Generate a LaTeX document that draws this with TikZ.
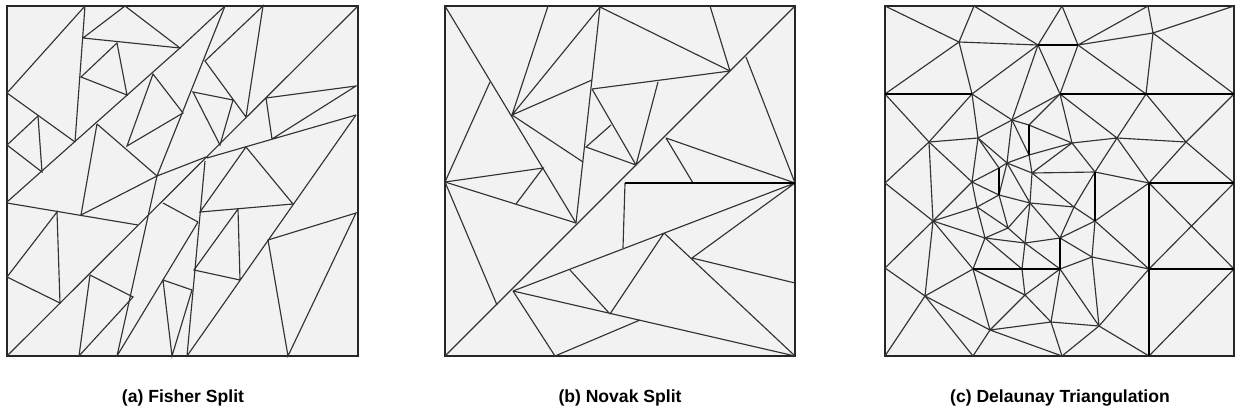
\documentclass[tikz,border=0pt]{standalone}
\usepackage{fontspec}
\setsansfont{Liberation Sans}
\usepackage{xcolor}
\definecolor{panelfill}{HTML}{F2F2F2}
\definecolor{edgegray}{HTML}{333333}

\begin{document}
\begin{tikzpicture}[x=0.02cm,y=-0.02cm,
  edge/.style={edgegray,line width=0.65pt},
  bound/.style={black,line width=1.15pt},
  frame/.style={fill=panelfill,draw=black!85,line width=1.1pt},
  caption/.style={font=\sffamily\bfseries\fontsize{10}{12}\selectfont}]
\useasboundingbox (0,0) rectangle (1238,413);
\filldraw[frame] (7,6) rectangle (358,356);
\filldraw[frame] (445,6) rectangle (795,356);
\filldraw[frame] (885,6) rectangle (1234,356);
\node[caption] (capa) at (183,398) {(a) Fisher Split};
\node[caption] (capb) at (620,398) {(b) Novak Split};
\node[caption] (capc) at (1060,398) {(c) Delaunay Triangulation};
% (a)
\draw[edge] (85,6)--(75,142) (125,6)--(83,38) (125,6)--(180,48)--(225,6) (83,38)--(180,48);
\draw[edge] (117,43)--(81,77)--(127,95)--cycle (7,93)--(85,6) (7,93)--(75,142) (7,202)--(180,48);
\draw[edge] (7,145)--(38,116)--(42,172)--cycle (153,74)--(127,146)--(183,113)--cycle;
\draw[edge] (97,124)--(81,215) (97,124)--(157,176) (225,6)--(157,176) (157,176)--(206,157);
\draw[edge] (263,6)--(205,61)--(246,117)--cycle (193,92)--(233,100)--(220,145)--cycle;
\draw[edge] (7,356)--(358,6) (266,98)--(356,86)--(272,139)--cycle (207,158)--(356,115);
\draw[edge] (246,147)--(293,204) (205,161)--(187,356) (246,147)--(200,212)--(293,204);
\draw[edge] (238,209)--(240,280) (238,209)--(194,270)--(240,280) (187,356)--(356,115);
\draw[edge] (268,240)--(356,213)--(288,356)--cycle (7,203)--(138,225) (81,215)--(157,176);
\draw[edge] (57,212)--(60,303)--(7,277)--cycle (90,275)--(79,356) (90,275)--(133,297)--(79,356);
\draw[edge] (117,356)--(157,176) (117,356)--(198,222) (163,280)--(192,290)--(172,356)--cycle;
\draw[edge] (163,203)--(198,222);
% (b)
\draw[edge] (445,6)--(576,223) (512,115)--(548,6) (512,115)--(600,7) (512,115)--(592,80) (512,115)--(583,162);
\draw[edge] (490,82)--(445,182)--(543,168)--(516,204) (600,7)--(576,223);
\draw[edge] (592,89)--(730,71) (592,89)--(636,165) (611,125)--(586,147)--(636,165);
\draw[edge] (658,82)--(636,165) (600,7)--(730,71) (710,6)--(730,71) (445,356)--(795,6);
\draw[edge] (746,57)--(795,183) (666,138)--(795,183) (666,138)--(693,183) (625,183)--(623,248);
\draw[edge] (513,291)--(795,183) (795,183)--(692,258)--(795,283) (664,233)--(610,314) (664,233)--(795,356);
\draw[edge] (513,291)--(795,356) (555,356)--(640,320) (513,291)--(555,356) (570,270)--(610,314);
\draw[edge] (445,182)--(576,223) (445,182)--(497,305);
\draw[bound] (625,183)--(795,183);
% (c)
\draw[edge] (885,6)--(959,42)--(974,6)--(1038,45)--(959,42) (959,42)--(885,94) (959,42)--(972,94)--(1038,45);
\draw[edge] (1038,45)--(1012,120) (1038,45)--(1062,6) (1038,45)--(1060,94) (972,94)--(929,142)--(885,94);
\draw[edge] (972,94)--(978,138)--(1012,120)--(972,94) (1012,120)--(1060,94) (929,142)--(978,138);
\draw[edge] (929,142)--(885,183) (929,142)--(933,221) (929,142)--(972,182)--(978,138);
\draw[edge] (978,138)--(1007,163)--(1012,120)--(1029,125)--(1060,94) (1029,155)--(1072,143) (1029,155)--(1032,173);
\draw[edge] (1062,6)--(1078,45)--(1148,6)--(1153,33)--(1078,45) (1153,33)--(1234,6);
\draw[edge] (1078,45)--(1146,94)--(1153,33)--(1234,94) (1078,45)--(1060,94);
\draw[edge] (1146,94)--(1117,138)--(1186,142)--(1146,94) (1186,142)--(1234,94) (1186,142)--(1234,183);
\draw[edge] (1117,138)--(1072,143)--(1060,94)--(1117,138) (1186,142)--(1149,183)--(1117,138)--(1095,172)--(1072,143);
\draw[edge] (1149,183)--(1234,269) (1234,183)--(1149,269) (1149,356)--(1234,269);
\draw[edge] (1095,221)--(1149,183) (1095,221)--(1149,269) (1092,257)--(1149,269) (1099,326)--(1149,269);
\draw[edge] (1099,326)--(1149,356) (1099,326)--(1062,356) (1099,326)--(1092,257) (1060,269)--(1099,326);
\draw[edge] (885,183)--(933,221)--(885,268)--(925,296)--(933,221) (933,221)--(972,182) (933,221)--(985,238);
\draw[edge] (933,221)--(973,269)--(925,296)--(885,356) (925,296)--(990,330)--(973,269) (925,296)--(973,356)--(990,330);
\draw[edge] (990,330)--(1025,295)--(1051,322)--(990,330)--(1062,356) (1025,295)--(1060,269) (1025,295)--(973,269);
\draw[edge] (973,269)--(985,238)--(977,207)--(972,182) (977,207)--(1008,228)--(985,238)--(1025,243)--(1008,228);
\draw[edge] (1008,228)--(999,195)--(977,207) (1025,243)--(1060,238) (933,221)--(977,207);
\draw[edge] (999,168)--(978,138) (972,182)--(999,168)--(1007,163)--(1029,155)--(1012,120) (1007,163)--(1032,173);
\draw[edge] (1032,173)--(1072,143)--(1029,125) (1032,173)--(1095,172) (1032,173)--(1074,207) (1032,173)--(1030,203);
\draw[edge] (1007,163)--(1030,203) (1007,163)--(999,195)--(1030,203) (972,182)--(999,195);
\draw[edge] (1030,203)--(1008,228) (1030,203)--(1025,243) (1030,203)--(1074,207)--(1095,172) (1074,207)--(1095,221);
\draw[edge] (1074,207)--(1060,238) (1030,203)--(1060,238)--(1095,221) (1060,238)--(1092,257)--(1095,221) (1092,257)--(1060,269);
\draw[edge] (1095,172)--(1149,183) (1025,243)--(1022,269)--(985,238) (1025,243)--(1060,269) (1022,269)--(1025,295);
\draw[edge] (1060,269)--(1051,322)--(1099,326) (1051,322)--(1062,356);
\draw[bound] (885,94)--(972,94) (1038,45)--(1078,45) (1060,94)--(1234,94) (1029,125)--(1029,155) (999,168)--(999,195);
\draw[bound] (1095,172)--(1095,221) (1060,238)--(1060,269)--(973,269) (1149,183)--(1234,183) (1149,183)--(1149,356) (1149,269)--(1234,269);
\end{tikzpicture}
\end{document}
